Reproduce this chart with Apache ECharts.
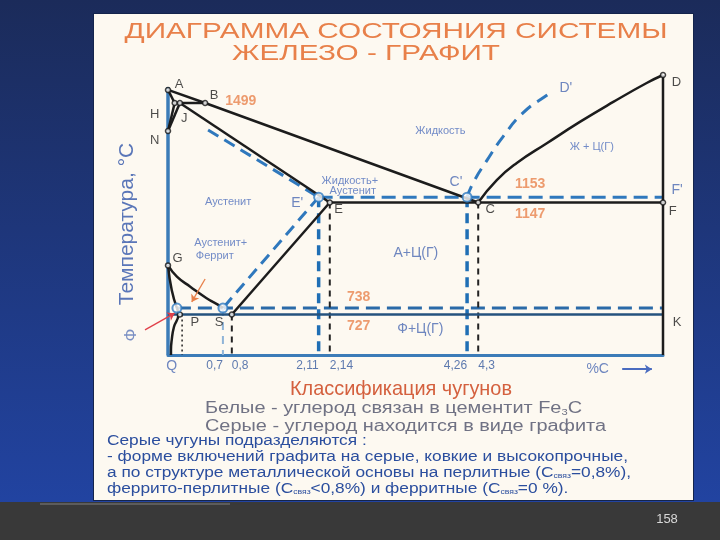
<!DOCTYPE html>
<html>
<head>
<meta charset="utf-8">
<script src="https://cdn.jsdelivr.net/npm/echarts@6/dist/echarts.min.js"></script>
<style>
html, body { margin: 0; padding: 0; background: #1e3574; }
#main { width: 720px; height: 540px; }
</style>
</head>
<body>
<div id="main"></div>
<script>
// диаграмма схематичная: %C и температура сняты по положению точек на картинке
var xMin = 0, xMax = 6.67;
var tMin = 575, tMax = 1625;

// сплошные черные линии (Fe - Fe3C)
var lineABC = [[0, 1569], [0.50, 1520], [4.18, 1147]];
var lineAH = [[0, 1569], [0.09, 1520]];
var lineHJB = [[0.09, 1520], [0.50, 1520]];
var lineHN = [[0.09, 1520], [0, 1415]];
var lineJN = [[0.16, 1520], [0, 1415]];
var lineJE = [[0.16, 1520], [2.18, 1147]];
var lineECF = [[2.18, 1147], [6.67, 1147]];
var lineES = [[2.18, 1147], [0.86, 727]];
var lineCD = [[4.18, 1147], [4.43, 1231], [4.70, 1295], [5.11, 1370], [5.55, 1449], [6.00, 1524], [6.45, 1595], [6.67, 1625]];
var lineGS = [[0, 911], [0.12, 869], [0.30, 831], [0.52, 788], [0.70, 759], [0.74, 751]];
var lineGP = [[0, 911], [0.05, 819], [0.12, 751]];
var linePQ = [[0.12, 751], [0.14, 727], [0.08, 680], [0.05, 631], [0.04, 594], [0.04, 575]];
var lineDK = [[6.67, 1625], [6.67, 575]];

// синие линии (Fe - графит)
var axisLeft = [[0, 1580], [0, 575]];
var linePSK = [[0, 727], [6.67, 727]];
var dashJE = [[0.54, 1419], [2.03, 1167]];
var dashECF = [[2.03, 1167], [6.67, 1167]];
var dashES = [[2.03, 1167], [0.74, 751]];
var dashPSK = [[0.12, 751], [6.67, 751]];
var dashCD = [[4.03, 1167], [4.11, 1220], [4.30, 1306], [4.51, 1392], [4.78, 1482], [5.11, 1550], [5.17, 1557]];

// вертикальные пунктиры до оси
var blueDropX = [2.03, 4.03];
var blueDropT = [1167, 1167];
var lightDropX = [0.74];
var lightDropT = [751];
var blackDropX = [0.86, 2.18, 4.18];
var blackDropT = [727, 1147, 1147];
var dotDropX = [0.19];
var dotDropT = [727];

// метки оси %C
var tickX = [0.74, 0.86, 2.03, 2.18, 4.03, 4.18];
var tickLabels = ['0,7', '0,8', '2,11', '2,14', '4,26', '4,3'];
var tickSide = ['right', 'left', 'right', 'left', 'right', 'left'];

// узловые точки
var blackPtX = [0, 0.50, 0.09, 0.16, 0, 6.67, 2.18, 4.18, 6.67, 0, 0.86, 0.16];
var blackPtT = [1569, 1520, 1520, 1520, 1415, 1625, 1147, 1147, 1147, 911, 727, 727];
var bluePtX = [4.03, 2.03, 0.74, 0.12];
var bluePtT = [1167, 1167, 751, 751];

// подписи
var blackNames = ['A', 'B', 'H', 'J', 'N', 'D', 'E', 'C', 'F', 'G', 'P', 'S', 'K'];
var blackNamesX = [0.15, 0.62, -0.18, 0.22, -0.18, 6.85, 2.30, 4.34, 6.80, 0.13, 0.36, 0.69, 6.86];
var blackNamesT = [1588, 1550, 1479, 1464, 1381, 1599, 1122, 1122, 1115, 939, 699, 699, 699];
var tempNames = ['1499', '1153', '1147', '738', '727'];
var tempNamesX = [0.98, 4.88, 4.88, 2.57, 2.57];
var tempNamesT = [1527, 1216, 1104, 792, 684];
var blueNames = ["C'", "D'", "F'", "E'", 'А+Ц(Г)', 'Ф+Ц(Г)', 'Q', '%C'];
var blueNamesX = [3.88, 5.36, 6.86, 1.74, 3.34, 3.40, 0.05, 5.79];
var blueNamesT = [1224, 1576, 1194, 1145, 957, 672, 534, 522];
var phaseNames = ['Жидкость', 'Ж + Ц(Г)', 'Жидкость+', 'Аустенит', 'Аустенит', 'Аустенит+', 'Феррит'];
var phaseNamesX = [3.67, 5.71, 2.45, 2.49, 0.81, 0.71, 0.63];
var phaseNamesT = [1415, 1355, 1228, 1190, 1149, 995, 946];

// стрелки
var arrowOrange = [[0.50, 860], [0.32, 774]];
var arrowRed = [[-0.31, 669], [0.09, 732]];
var arrowC = [[6.12, 522], [6.52, 522]];

var FONT = '"Liberation Sans", Arial, sans-serif';
var NARROW = '"Liberation Sans Narrow", "Liberation Sans", sans-serif';

var dom = document.getElementById('main');
var myChart = echarts.init(dom);

// растяжка текста по ширине как на слайде
var ctx = document.createElement('canvas').getContext('2d');
function stretch(text, font, width) {
    ctx.font = font;
    return width / ctx.measureText(text).width;
}

var series = [];
function addLine(data, color, width, type, smooth) {
    series.push({
        type: 'line', data: data, symbol: 'none', smooth: smooth || false,
        silent: true, clip: false, z: 3,
        lineStyle: { color: color, width: width, type: type || 'solid', cap: 'butt' }
    });
}
function addDrops(xs, ts, color, width, type) {
    for (var i = 0; i < xs.length; i++) {
        addLine([[xs[i], ts[i]], [xs[i], tMin]], color, width, type);
    }
}
function addText(names, xs, ts, color, size, weight) {
    series.push({
        type: 'scatter', symbolSize: 1, silent: true, clip: false, z: 6,
        itemStyle: { color: 'rgba(0,0,0,0)' },
        data: names.map(function (n, i) { return { name: n, value: [xs[i], ts[i]] }; }),
        label: {
            show: true, position: 'inside', formatter: '{b}', color: color,
            fontSize: size, fontWeight: weight || 'normal', fontFamily: FONT, lineHeight: size + 1
        }
    });
}
function addPoints(xs, ts, size, border, width) {
    series.push({
        type: 'scatter', symbol: 'circle', symbolSize: size, silent: true, clip: false, z: 5,
        itemStyle: { color: '#ffffff', borderColor: border, borderWidth: width },
        data: xs.map(function (x, i) { return [x, ts[i]]; })
    });
}
function addArrow(coords, color, width) {
    series.push({
        type: 'lines', coordinateSystem: 'cartesian2d', silent: true, clip: false, z: 4,
        symbol: ['none', 'arrow'], symbolSize: 7,
        lineStyle: { color: color, width: width, opacity: 1, curveness: 0 },
        data: [{ coords: coords }]
    });
}

var BLACK = '#1c1c1c';
var BLUE = '#2f78bd';

// графитовая система
addLine(dashJE, BLUE, 3, [12, 7]);
addLine(dashECF, BLUE, 3, [14, 7]);
addLine(dashES, BLUE, 3, [12, 7]);
addLine(dashPSK, '#2a6aa8', 3, [14, 7]);
addLine(dashCD, BLUE, 3, [12, 8], true);
addDrops(blueDropX, blueDropT, '#1f6fb5', 3.5, [10, 6]);
addDrops(lightDropX, lightDropT, '#8fb4d8', 2, [8, 6]);
addDrops(blackDropX, blackDropT, '#222222', 2, [6, 5]);
addDrops(dotDropX, dotDropT, '#222222', 1.5, [2, 3]);

// цементитная система
addLine(axisLeft, '#3c7cb8', 3.5);
addLine(linePSK, '#24527e', 2.5);
addLine(lineABC, BLACK, 2.5);
addLine(lineAH, BLACK, 2.5);
addLine(lineHJB, BLACK, 2.5);
addLine(lineHN, BLACK, 2.5);
addLine(lineJN, BLACK, 2.5);
addLine(lineJE, BLACK, 2.5);
addLine(lineECF, BLACK, 2.5);
addLine(lineES, BLACK, 2.5);
addLine(lineCD, BLACK, 2.5, 'solid', true);
addLine(lineGS, BLACK, 2.5, 'solid', true);
addLine(lineGP, BLACK, 2.5, 'solid', true);
addLine(linePQ, BLACK, 2.5, 'solid', true);
addLine(lineDK, BLACK, 2.5);

addPoints(blackPtX, blackPtT, 5, '#111111', 1.5);
addPoints(bluePtX, bluePtT, 9, '#2f7bc0', 2);

addArrow(arrowOrange, '#e8804a', 1.3);
addArrow(arrowRed, '#e0404a', 1.3);
addArrow(arrowC, '#4a6cc0', 2);

addText(blackNames, blackNamesX, blackNamesT, '#1e1e1e', 13);
addText(tempNames, tempNamesX, tempNamesT, '#e8834e', 14, 'bold');
addText(blueNames, blueNamesX, blueNamesT, '#4a69b3', 14);
addText(phaseNames, phaseNamesX, phaseNamesT, '#4f6fbd', 11);

// метки оси
series.push({
    type: 'scatter', symbolSize: 1, silent: true, clip: false, z: 6,
    itemStyle: { color: 'rgba(0,0,0,0)' },
    data: tickLabels.map(function (t, i) {
        return { name: t, value: [tickX[i], tMin], label: { align: tickSide[i] } };
    }),
    label: {
        show: true, position: 'inside', formatter: '{b}', offset: [0, 11],
        color: '#34599e', fontSize: 12, fontFamily: NARROW
    }
});
// Ф у оси
series.push({
    type: 'scatter', symbolSize: 1, silent: true, clip: false, z: 6,
    itemStyle: { color: 'rgba(0,0,0,0)' },
    data: [{ name: 'Ф', value: [-0.50, 650] }],
    label: { show: true, position: 'inside', formatter: '{b}', rotate: 90, color: '#5a76b8', fontSize: 17, fontFamily: FONT }
});

var title1 = 'ДИАГРАММА СОСТОЯНИЯ СИСТЕМЫ';
var title2 = 'ЖЕЛЕЗО - ГРАФИТ';
var titleFont = '22px ' + FONT;
var classTitle = 'Классификация чугунов';
var classFont = '21px ' + NARROW;
var grey1 = 'Белые - углерод связан в цементит Fe';
var grey2 = 'Серые - углерод находится в виде графита';
var greyFont = '16px ' + FONT;
var blueLines = [
    'Серые чугуны подразделяются :',
    '- форме включений графита на серые, ковкие и высокопрочные,',
    'а по структуре металлической основы на перлитные (C{s|связ}=0,8%),',
    'феррито-перлитные (C{s|связ}<0,8%) и ферритные (C{s|связ}=0 %).'
];
var blueFont = '14px ' + FONT;
var greyScale = stretch(grey2, greyFont, 401);
var blueScale = stretch(blueLines[1], blueFont, 521);

var graphic = [
    { type: 'rect', z: -10, silent: true, shape: { x: 93, y: 13, width: 601, height: 488 }, style: { fill: '#14244c' } },
    { type: 'rect', z: -9, silent: true, shape: { x: 94, y: 14, width: 599, height: 486 }, style: { fill: '#fdf9f1' } },
    { type: 'rect', z: -9, silent: true, shape: { x: 0, y: 502, width: 720, height: 38 }, style: { fill: '#393939' } },
    { type: 'rect', z: -8, silent: true, shape: { x: 40, y: 503, width: 190, height: 2 }, style: { fill: '#5c5c5c' } },
    { type: 'text', x: 396, y: 32, scaleX: stretch(title1, titleFont, 543), silent: true,
      style: { text: title1, font: titleFont, fill: '#e8804a', align: 'center', verticalAlign: 'middle' } },
    { type: 'text', x: 366, y: 54, scaleX: stretch(title2, titleFont, 268), silent: true,
      style: { text: title2, font: titleFont, fill: '#e8804a', align: 'center', verticalAlign: 'middle' } },
    { type: 'text', x: 401, y: 389, scaleX: stretch(classTitle, classFont, 222), silent: true,
      style: { text: classTitle, font: classFont, fill: '#d4603e', align: 'center', verticalAlign: 'middle' } },
    { type: 'text', x: 205, y: 409, scaleX: greyScale, silent: true,
      style: { text: grey1 + '{s|3}C', font: greyFont, fill: '#707284', verticalAlign: 'middle',
               rich: { s: { fontSize: 9, fill: '#707284', verticalAlign: 'bottom' } } } },
    { type: 'text', x: 205, y: 427, scaleX: greyScale, silent: true,
      style: { text: grey2, font: greyFont, fill: '#707284', verticalAlign: 'middle' } },
    { type: 'text', x: 667, y: 519, silent: true,
      style: { text: '158', font: '13px ' + NARROW, fill: '#d8d8d8', align: 'center', verticalAlign: 'middle' } }
];
blueLines.forEach(function (t, i) {
    graphic.push({
        type: 'text', x: 107, y: 441 + i * 16, scaleX: blueScale, silent: true,
        style: { text: t, font: blueFont, fill: '#2b4e9e', verticalAlign: 'middle',
                 rich: { s: { fontSize: 7, fill: '#2b4e9e', verticalAlign: 'bottom' } } }
    });
});

var option = {
    animation: false,
    backgroundColor: new echarts.graphic.LinearGradient(0, 0, 0, 1, [
        { offset: 0, color: '#1b2b5a' },
        { offset: 1, color: '#2245a6' }
    ]),
    grid: { left: 168, right: 57, top: 75, bottom: 185 },
    xAxis: {
        type: 'value', min: xMin, max: xMax,
        axisLine: { lineStyle: { color: '#3c7cb8', width: 3 } },
        axisTick: { show: false },
        axisLabel: { show: false },
        splitLine: { show: false }
    },
    yAxis: {
        type: 'value', min: tMin, max: tMax,
        name: 'Температура, °C',
        nameLocation: 'middle', nameRotate: 90, nameGap: 30,
        nameTextStyle: { color: '#5a76b8', fontSize: 21, fontFamily: FONT, padding: [0, 18, 0, 0] },
        axisLine: { show: false },
        axisTick: { show: false },
        axisLabel: { show: false },
        splitLine: { show: false }
    },
    graphic: graphic,
    series: series
};
if (option && typeof option === "object") {
    myChart.setOption(option, true);
}
</script>
</body>
</html>
